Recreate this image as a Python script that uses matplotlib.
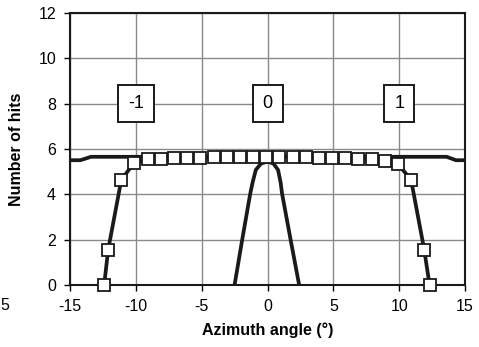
import matplotlib
matplotlib.use('Agg')
import matplotlib.pyplot as plt

plt.rcParams['font.family'] = ['Liberation Sans', 'DejaVu Sans']
plt.rcParams['axes.unicode_minus'] = False

# order -1 / 0 / +1 scan points (squares)
sq_x = [-12.4, -12.1, -11.1, -10.15, -9.1, -8.1, -7.1, -6.1, -5.1, -4.1, -3.1, -2.1,
        -1.1, -0.1, 0.9, 1.9, 2.9, 3.9, 4.9, 5.9, 6.9, 7.9, 8.9, 9.9, 10.9, 11.9, 12.3]
sq_y = [0.0, 1.54, 4.63, 5.37, 5.55, 5.57, 5.58, 5.6, 5.6, 5.62, 5.63, 5.63,
        5.65, 5.65, 5.66, 5.65, 5.64, 5.6, 5.6, 5.58, 5.57, 5.54, 5.48, 5.34, 4.63, 1.54, 0.0]

# total (flat) curve
tot_x = [-15, -14.2, -13.4, -10, 0, 10, 13.6, 14.3, 15]
tot_y = [5.5, 5.5, 5.65, 5.65, 5.65, 5.65, 5.65, 5.5, 5.5]

# central order 0 peak
pk_x = [-2.5, -1.92, -1.32, -1.14, -0.89, -0.5, 0.0, 0.45, 0.8, 1.0, 1.1, 1.75, 2.4]
pk_y = [0.0, 2.0, 4.0, 4.5, 5.07, 5.35, 5.44, 5.35, 5.07, 4.5, 4.04, 2.0, 0.0]

labels = ['-1', '0', '1']
label_x = [-10, 0, 10]
label_y = [8, 8, 8]

fig = plt.figure(figsize=(4.79, 3.47), dpi=100)
ax = fig.add_axes([0.146, 0.179, 0.825, 0.784])

ax.plot(tot_x, tot_y, color='#1a1a1a', lw=2.7, zorder=3)
ax.plot(pk_x, pk_y, color='#1a1a1a', lw=2.7, zorder=3)
ax.plot(sq_x, sq_y, color='#1a1a1a', lw=2.7, marker='s', ms=8.5,
        mfc='white', mec='#1a1a1a', mew=1.3, zorder=4, clip_on=False)

for t, x, y in zip(labels, label_x, label_y):
    ax.text(x, y, t, ha='center', va='center', fontsize=13, zorder=5,
            bbox=dict(boxstyle='square,pad=0.55', fc='white', ec='#1a1a1a', lw=1.4))

ax.set_xlim(-15, 15)
ax.set_ylim(0, 12)
ax.set_xticks([-15, -10, -5, 0, 5, 10, 15])
ax.set_yticks([0, 2, 4, 6, 8, 10, 12])
ax.grid(True, color='#8a8a8a', lw=1.0)
ax.set_axisbelow(True)
for s in ax.spines.values():
    s.set_color('#1a1a1a')
    s.set_linewidth(1.5)
ax.tick_params(direction='out', length=4, width=1, labelsize=11.5, pad=6)
ax.set_xlabel('Azimuth angle (°)', fontsize=11.5, fontweight='bold', labelpad=6)
ax.set_ylabel('Number of hits', fontsize=11.5, fontweight='bold', labelpad=10)

# stray label at the left edge of the scan
fig.text(0.0, 1 - 305 / 347, '5', fontsize=11.5, va='center', ha='left')

fig.savefig('out.png', dpi=100)
